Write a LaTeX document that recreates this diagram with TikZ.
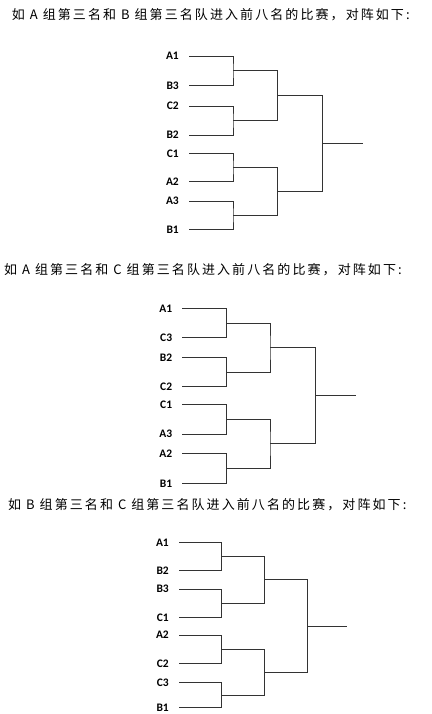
\documentclass[tikz,border=0pt]{standalone}
\usepackage{fontspec}
\setmainfont{Carlito}
\newfontfamily\cjk[LetterSpace=16]{Noto Sans CJK SC}
\tikzset{
  lab/.style={font=\bfseries\fontsize{11.5}{13}\selectfont, anchor=east, inner sep=0pt, text=black},
  br/.style={draw=black!80, line width=0.7pt},
  ttl/.style={font=\cjk\fontsize{13}{15}\selectfont, anchor=west, inner sep=0pt}
}
\newcommand\blk[1]{%
  \coordinate (#1s1) at (\xa,\ya);
  \coordinate (#1s2) at (\xa,\yb);
  \coordinate (#1s3) at (\xa,\yc);
  \coordinate (#1s4) at (\xa,\yd);
  \coordinate (#1s5) at (\xa,\ye);
  \coordinate (#1s6) at (\xa,\yf);
  \coordinate (#1s7) at (\xa,\yg);
  \coordinate (#1s8) at (\xa,\yh);
  \node[lab] (#1n1) at ([xshift=-10pt]#1s1) {\la};
  \node[lab] (#1n2) at ([xshift=-10pt]#1s2) {\lb};
  \node[lab] (#1n3) at ([xshift=-10pt]#1s3) {\lc};
  \node[lab] (#1n4) at ([xshift=-10pt]#1s4) {\ld};
  \node[lab] (#1n5) at ([xshift=-10pt]#1s5) {\le};
  \node[lab] (#1n6) at ([xshift=-10pt]#1s6) {\lf};
  \node[lab] (#1n7) at ([xshift=-10pt]#1s7) {\lg};
  \node[lab] (#1n8) at ([xshift=-10pt]#1s8) {\lh};
  \coordinate (#1a1) at (\xb,{(\ya+\yb)/2});
  \coordinate (#1a2) at (\xb,{(\yc+\yd)/2});
  \coordinate (#1a3) at (\xb,{(\ye+\yf)/2});
  \coordinate (#1a4) at (\xb,{(\yg+\yh)/2});
  \coordinate (#1b1) at (\xc,{(\ya+\yb+\yc+\yd)/4});
  \coordinate (#1b2) at (\xc,{(\ye+\yf+\yg+\yh)/4});
  \coordinate (#1c) at (\xd,{(\ya+\yb+\yc+\yd+\ye+\yf+\yg+\yh)/8});
  \coordinate (#1w) at (\xe,{(\ya+\yb+\yc+\yd+\ye+\yf+\yg+\yh)/8});
  \draw[br] (#1s1) -| (#1a1) |- (#1s2);
  \draw[br] (#1s3) -| (#1a2) |- (#1s4);
  \draw[br] (#1s5) -| (#1a3) |- (#1s6);
  \draw[br] (#1s7) -| (#1a4) |- (#1s8);
  \draw[br] (#1a1) -| (#1b1) |- (#1a2);
  \draw[br] (#1a3) -| (#1b2) |- (#1a4);
  \draw[br] (#1b1) -| (#1c) |- (#1b2);
  \draw[br] (#1c) -- (#1w);
}
\begin{document}
\begin{tikzpicture}[x=1pt,y=-1pt]
\useasboundingbox[fill=white] (0,0) rectangle (431,714);
% titles
\node[ttl] (t1) at (11.7,15) {如 A 组第三名和 B 组第三名队进入前八名的比赛，对阵如下:};
\node[ttl] (t2) at (4,269.3) {如 A 组第三名和 C 组第三名队进入前八名的比赛，对阵如下:};
\node[ttl] (t3) at (8,505) {如 B 组第三名和 C 组第三名队进入前八名的比赛，对阵如下:};
% block 1
\def\xa{189}\def\xb{233}\def\xc{277.5}\def\xd{322.7}\def\xe{362.7}
\def\ya{56}\def\yb{85.7}\def\yc{106}\def\yd{135}\def\ye{153.3}\def\yf{181.7}\def\yg{201}\def\yh{229.3}
\def\la{A1}\def\lb{B3}\def\lc{C2}\def\ld{B2}\def\le{C1}\def\lf{A2}\def\lg{A3}\def\lh{B1}
\blk{p}
% block 2
\def\xa{182.3}\def\xb{226.5}\def\xc{270}\def\xd{315.3}\def\xe{356}
\def\ya{308.3}\def\yb{337.7}\def\yc{357.7}\def\yd{386.7}\def\ye{404.3}\def\yf{434}\def\yg{453.3}\def\yh{483.3}
\def\la{A1}\def\lb{C3}\def\lc{B2}\def\ld{C2}\def\le{C1}\def\lf{A3}\def\lg{A2}\def\lh{B1}
\blk{q}
% block 3
\def\xa{179}\def\xb{221.5}\def\xc{264.3}\def\xd{307.3}\def\xe{346.7}
\def\ya{542.3}\def\yb{570.3}\def\yc{589}\def\yd{617.7}\def\ye{635}\def\yf{663.3}\def\yg{682.3}\def\yh{707.8}
\def\la{A1}\def\lb{B2}\def\lc{B3}\def\ld{C1}\def\le{A2}\def\lf{C2}\def\lg{C3}\def\lh{B1}
\blk{r}
\end{tikzpicture}
\end{document}
